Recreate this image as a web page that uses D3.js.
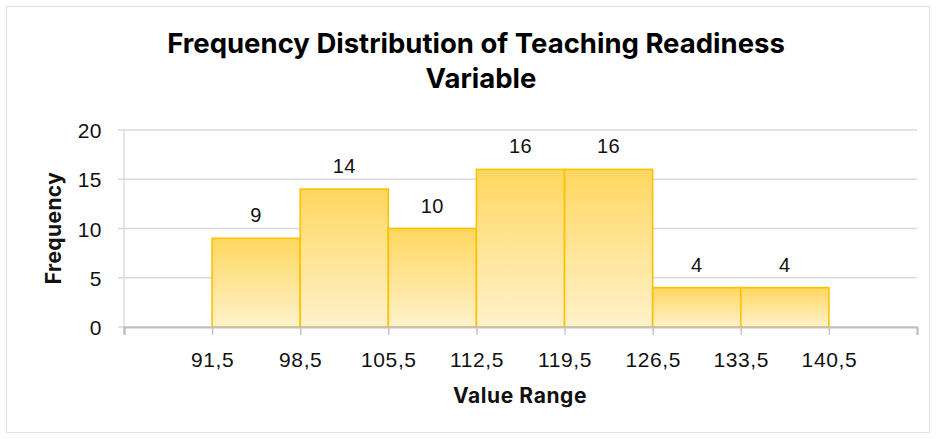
<!DOCTYPE html>
<html><head><meta charset="utf-8">
<script src="https://cdn.jsdelivr.net/npm/d3@7"></script>
<style>body{margin:0;background:#fff;} svg{display:block;}</style>
</head><body>
<svg id="c" width="936" height="439"></svg>
<script>
const binStarts = [91.5, 98.5, 105.5, 112.5, 119.5, 126.5, 133.5];
const binWidth = 7;
const frequency = [9, 14, 10, 16, 16, 4, 4];
const tickValues = [84.5, 91.5, 98.5, 105.5, 112.5, 119.5, 126.5, 133.5, 140.5, 147.5];
const tickLabels = ["", "91,5", "98,5", "105,5", "112,5", "119,5", "126,5", "133,5", "140,5", ""];
const yTicks = [0, 5, 10, 15, 20];
const titleLines = ["Frequency Distribution of Teaching Readiness", "Variable"];

const svg = d3.select("#c");
const L = 124, R = 917, T = 130, B = 327;
const x = d3.scaleLinear().domain([84.5, 147.5]).range([L, R]);
const y = d3.scaleLinear().domain([0, 20]).range([B, T]);
const numFont = "'Liberation Sans', Arial, sans-serif";
const boldFont = "Inter, Roboto, sans-serif";

svg.append("rect").attr("x", 6.5).attr("y", 6.5).attr("width", 923).attr("height", 426)
  .attr("fill", "#fff").attr("stroke", "#e3e3e3").attr("stroke-width", 1.2);

const defs = svg.append("defs");
const g = defs.append("linearGradient").attr("id", "bg").attr("x1", 0).attr("y1", 0).attr("x2", 0).attr("y2", 1);
g.append("stop").attr("offset", "0%").attr("stop-color", "#FFD75F");
g.append("stop").attr("offset", "100%").attr("stop-color", "#FFF2CC");

// title
svg.append("text").attr("y", 53).attr("text-anchor", "middle")
  .attr("font-family", boldFont).attr("font-weight", "bold").attr("font-size", 27.5)
  .attr("fill", "#000")
  .selectAll("tspan").data(titleLines).join("tspan")
  .attr("x", (d, i) => i ? 481 : 476).attr("dy", (d, i) => i ? 35 : 0).text(d => d);

// gridlines
svg.append("g").selectAll("line").data(yTicks).join("line")
  .attr("x1", L - 6).attr("x2", R).attr("y1", d => y(d)).attr("y2", d => y(d))
  .attr("stroke", "#d9d9d9").attr("stroke-width", 1.3);

// y axis line
svg.append("line").attr("x1", L).attr("x2", L).attr("y1", T).attr("y2", B)
  .attr("stroke", "#d9d9d9").attr("stroke-width", 1.3);

// y labels
svg.append("g").selectAll("text").data(yTicks).join("text")
  .attr("x", 102).attr("y", d => y(d) + 8).attr("text-anchor", "end")
  .attr("font-family", numFont).attr("font-size", 21).attr("fill", "#111")
  .attr("letter-spacing", 0.5)
  .text(d => d);

// bars
svg.append("g").selectAll("rect").data(binStarts).join("rect")
  .attr("x", d => x(d)).attr("width", d => x(d + binWidth) - x(d))
  .attr("y", (d, i) => y(frequency[i])).attr("height", (d, i) => y(0) - y(frequency[i]))
  .attr("fill", "url(#bg)").attr("stroke", "#FFC000").attr("stroke-width", 1.6);

// value labels
svg.append("g").selectAll("text").data(binStarts).join("text")
  .attr("x", d => x(d + binWidth / 2)).attr("y", (d, i) => y(frequency[i]) - 16)
  .attr("text-anchor", "middle")
  .attr("font-family", numFont).attr("font-size", 20).attr("fill", "#111")
  .attr("letter-spacing", 0.5)
  .text((d, i) => frequency[i]);

// x axis
const xAxis = d3.axisBottom(x).tickValues(tickValues).tickSize(8)
  .tickFormat((d, i) => tickLabels[i]);
const ax = svg.append("g").attr("transform", `translate(0,${B})`).call(xAxis);
ax.select(".domain").attr("stroke", "#bfbfbf").attr("stroke-width", 2.2);
ax.selectAll(".tick line").attr("stroke", "#bfbfbf").attr("stroke-width", 1.3);
ax.selectAll(".tick text").attr("font-family", numFont)
  .attr("y", 40).attr("dy", null)
  .attr("font-size", 21).attr("letter-spacing", 0.6).attr("fill", "#111");

// axis titles
svg.append("text").attr("x", 520).attr("y", 403).attr("text-anchor", "middle")
  .attr("font-family", boldFont).attr("font-weight", "bold").attr("font-size", 21)
  .attr("letter-spacing", 0.6)
  .attr("fill", "#111").text("Value Range");
svg.append("text").attr("transform", "translate(61,228) rotate(-90)").attr("text-anchor", "middle")
  .attr("font-family", boldFont).attr("font-weight", "bold").attr("font-size", 21)
  .attr("letter-spacing", 0.4)
  .attr("fill", "#111").text("Frequency");
</script>
</body></html>
